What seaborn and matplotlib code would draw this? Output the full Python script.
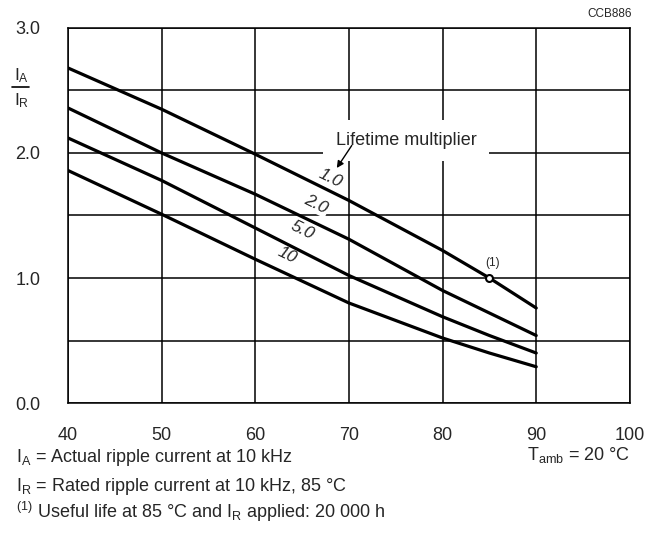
import matplotlib
matplotlib.use("Agg")
import matplotlib.pyplot as plt
from matplotlib.lines import Line2D
import seaborn as sns
import pandas as pd

temps = [40, 50, 60, 70, 80, 85, 90]
curve_1 = [2.68, 2.35, 1.99, 1.62, 1.22, 1.00, 0.76]
curve_2 = [2.36, 2.00, 1.67, 1.31, 0.90, 0.72, 0.54]
curve_5 = [2.12, 1.78, 1.40, 1.02, 0.69, 0.54, 0.40]
curve_10 = [1.86, 1.51, 1.15, 0.80, 0.52, 0.40, 0.29]
multipliers = ["1.0", "2.0", "5.0", "10"]
x_ticks = [40, 50, 60, 70, 80, 90, 100]
y_ticks = [0.0, 1.0, 2.0, 3.0]

rows = []
for name, vals in zip(multipliers, [curve_1, curve_2, curve_5, curve_10]):
    for t, v in zip(temps, vals):
        rows.append({"T": t, "ratio": v, "mult": name})
df = pd.DataFrame(rows)

sns.set_style("white")
plt.rcParams["font.family"] = ["Liberation Sans", "DejaVu Sans"]
plt.rcParams["mathtext.fontset"] = "custom"
plt.rcParams["mathtext.rm"] = "Liberation Sans"
plt.rcParams["mathtext.it"] = "Liberation Sans:italic"

fig = plt.figure(figsize=(6.48, 5.35), dpi=100)
ax = fig.add_axes([0.105, 0.2467, 0.867, 0.701])

sns.lineplot(data=df, x="T", y="ratio", hue="mult", palette=["black"] * 4,
             linewidth=2.3, legend=False, ax=ax, zorder=5)

ax.set_xlim(40, 100)
ax.set_ylim(0, 3)
ax.set_xticks(x_ticks)
ax.set_yticks([i * 0.5 for i in range(7)])
ax.grid(True, color="black", linewidth=1.1)
ax.set_xticklabels([str(t) for t in x_ticks], fontsize=13)
ax.set_yticklabels(["0.0", "", "1.0", "", "2.0", "", "3.0"], fontsize=13)
ax.tick_params(axis="x", length=0, pad=17)
ax.tick_params(axis="y", length=0, pad=20)
for s in ax.spines.values():
    s.set_color("black")
    s.set_linewidth(1.1)
ax.set_xlabel("")
ax.set_ylabel("")

# point (1)
ax.plot([85], [1.0], marker="o", markersize=5, markerfacecolor="white",
        markeredgecolor="black", markeredgewidth=1.5, zorder=6)
ax.text(85.3, 1.07, "(1)", fontsize=8.5, ha="center", va="bottom", zorder=6)

# curve labels
label_pos = [(68.0, 1.80), (66.5, 1.59), (65.0, 1.38), (63.4, 1.18)]
for name, (lx, ly) in zip(multipliers, label_pos):
    ax.text(lx, ly, name, fontsize=12.5, style="italic", rotation=-26,
            ha="center", va="center", zorder=4,
            bbox=dict(facecolor="white", edgecolor="none", pad=1))

ax.text(76.1, 2.10, "Lifetime multiplier", fontsize=13, ha="center",
        va="center", zorder=4,
        bbox=dict(facecolor="white", edgecolor="none", pad=9))
ax.annotate("", xy=(68.7, 1.88), xytext=(70.3, 2.06), zorder=6,
            arrowprops=dict(arrowstyle="-|>", color="black", lw=1,
                            shrinkA=0, shrinkB=0, mutation_scale=10))

fig.text(0.975, 0.985, "CCB886", fontsize=8.5, ha="right", va="top")

# y axis label as a stacked fraction
bar_y = (535 - 86.5) / 535
fig.add_artist(Line2D([12 / 648, 29 / 648], [bar_y, bar_y], color="black",
                      linewidth=1.2, transform=fig.transFigure))
fig.text(14 / 648, bar_y + 2 / 535, r"I$_\mathrm{A}$", fontsize=12.5,
         ha="left", va="bottom")
fig.text(14 / 648, bar_y - 5 / 535, r"I$_\mathrm{R}$", fontsize=12.5,
         ha="left", va="top")

fig.text(0.025, 0.137, r"I$_\mathrm{A}$ = Actual ripple current at 10 kHz", fontsize=13)
fig.text(0.025, 0.083, r"I$_\mathrm{R}$ = Rated ripple current at 10 kHz, 85 °C", fontsize=13)
fig.text(0.025, 0.032, r"$^{(1)}$ Useful life at 85 °C and I$_\mathrm{R}$ applied: 20 000 h", fontsize=13)
fig.text(0.972, 0.14, r"T$_\mathrm{amb}$ = 20 °C", fontsize=13, ha="right")

fig.savefig("out.png", dpi=100)
